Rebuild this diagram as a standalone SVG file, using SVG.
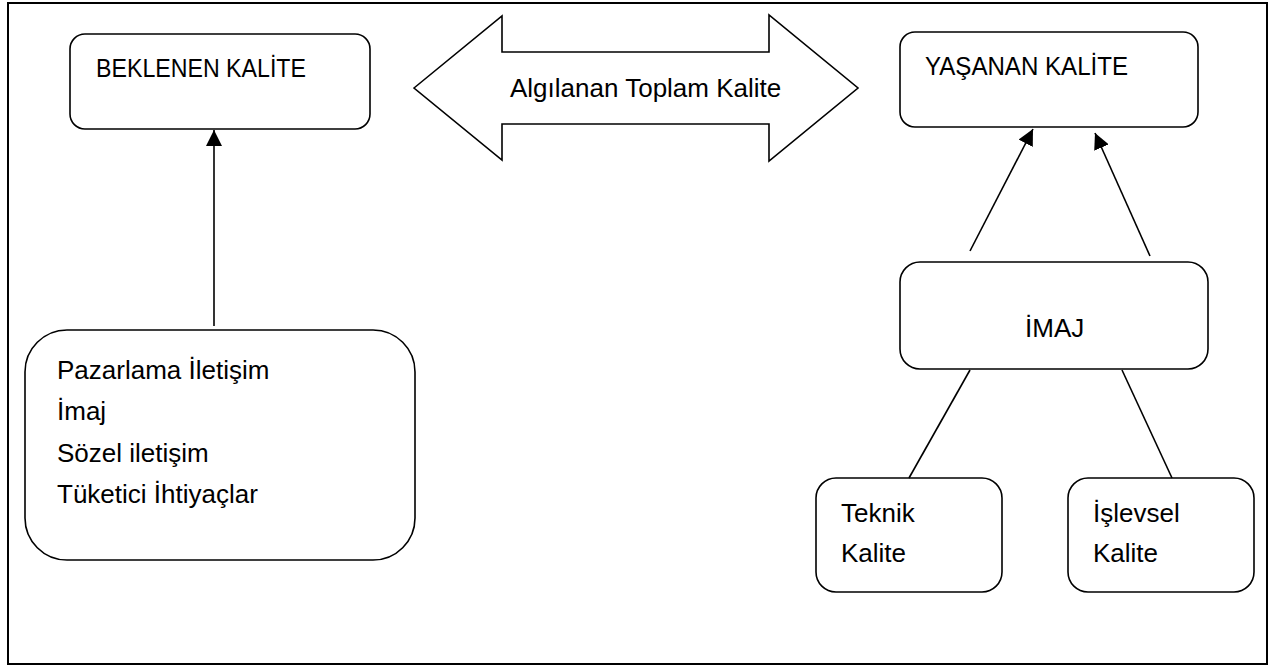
<svg xmlns="http://www.w3.org/2000/svg" width="1279" height="666" viewBox="0 0 1279 666">
<style>
.box{fill:#fff;stroke:#000;stroke-width:1.6}
.t{font-family:"Liberation Sans",Arial,sans-serif;font-size:26px;fill:#000}
.ln{stroke:#000;stroke-width:1.6;fill:none}
</style>
<defs>
<marker id="ah" viewBox="0 0 10 10" refX="10" refY="5" markerWidth="16" markerHeight="16" markerUnits="userSpaceOnUse" orient="auto">
<path d="M0,0 L10,5 L0,10 z" fill="#000"/>
</marker>
</defs>
<rect x="0" y="0" width="1279" height="666" fill="#fff"/>
<rect id="frame" x="8" y="3" width="1259" height="661" fill="none" stroke="#000" stroke-width="2"/>

<g id="beklenen">
<rect class="box" x="70" y="34" width="300" height="95" rx="15"/>
<text class="t" x="96" y="77" textLength="210" lengthAdjust="spacingAndGlyphs">BEKLENEN KALİTE</text>
</g>

<g id="algilanan">
<polygon class="box" points="414,88 502,16 502,52 769,52 769,15 858,88 769,161 769,124 502,124 502,160"/>
<text class="t" x="510" y="97">Algılanan Toplam Kalite</text>
</g>

<g id="yasanan">
<rect class="box" x="900" y="32" width="298" height="95" rx="15"/>
<text class="t" x="925" y="75" textLength="203" lengthAdjust="spacingAndGlyphs">YAŞANAN KALİTE</text>
</g>

<g id="pazarlama">
<rect class="box" x="25" y="330" width="390" height="230" rx="42"/>
<text class="t" x="57" y="379">Pazarlama İletişim</text>
<text class="t" x="57" y="420">İmaj</text>
<text class="t" x="57" y="462">Sözel iletişim</text>
<text class="t" x="57" y="503">Tüketici İhtiyaçlar</text>
</g>

<g id="imaj">
<rect class="box" x="900" y="262" width="308" height="107" rx="20"/>
<text class="t" x="1025" y="337">İMAJ</text>
</g>

<g id="teknik">
<rect class="box" x="816" y="478" width="186" height="114" rx="20"/>
<text class="t" x="841" y="522">Teknik</text>
<text class="t" x="841" y="562">Kalite</text>
</g>

<g id="islevsel">
<rect class="box" x="1068" y="478" width="186" height="114" rx="20"/>
<text class="t" x="1093" y="522">İşlevsel</text>
<text class="t" x="1093" y="562">Kalite</text>
</g>

<g id="connectors">
<line class="ln" x1="214" y1="326" x2="214" y2="130" marker-end="url(#ah)"/>
<line class="ln" x1="970" y1="251" x2="1033" y2="129" marker-end="url(#ah)"/>
<line class="ln" x1="1150" y1="256" x2="1095" y2="133" marker-end="url(#ah)"/>
<line class="ln" x1="970" y1="370" x2="909" y2="478"/>
<line class="ln" x1="1122" y1="370" x2="1172" y2="478"/>
</g>
</svg>
